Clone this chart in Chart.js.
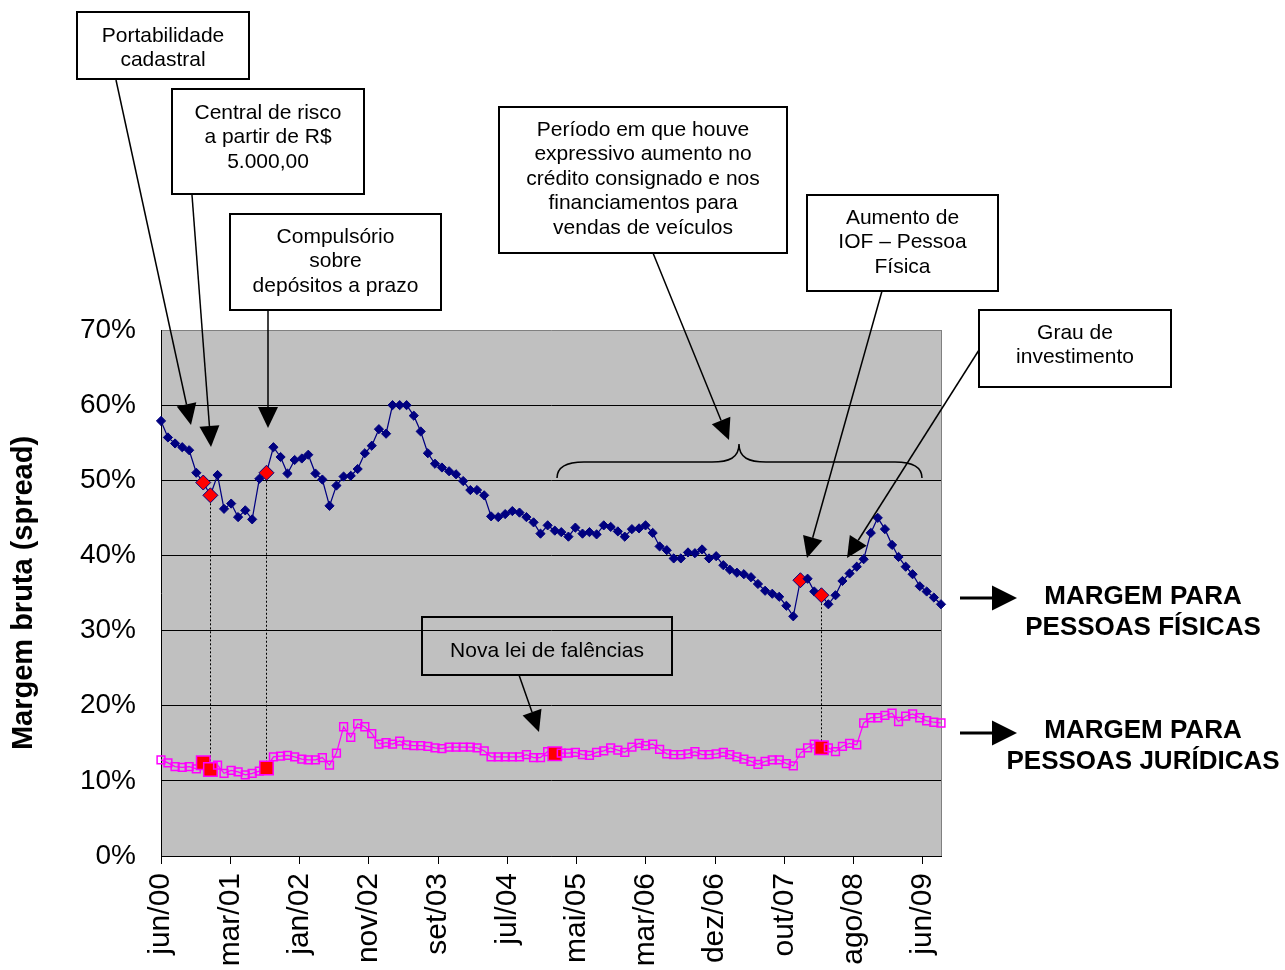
<!DOCTYPE html>
<html>
<head>
<meta charset="utf-8">
<script src="https://cdn.jsdelivr.net/npm/chart.js@4.4.1/dist/chart.umd.min.js"></script>
<style>
  html, body { margin: 0; padding: 0; background: #fff; }
  #wrap { width: 1285px; height: 970px; }
</style>
</head>
<body>
<div id="wrap"><canvas id="spreadChart" width="1285" height="970"></canvas></div>
<script>
// margem bruta (spread), mensal de jun/00 a set/09, em %
const pfSpread = [
  57.9, 55.7, 54.9, 54.4, 54.0, 51.0, 49.7, 48.0, 50.7, 46.2,
  46.9, 45.1, 46.0, 44.8, 50.2, 51.0, 54.4, 53.1, 50.9, 52.7,
  52.9, 53.4, 50.9, 50.1, 46.6, 49.3, 50.5, 50.6, 51.5, 53.6,
  54.6, 56.8, 56.2, 60.0, 60.0, 60.0, 58.6, 56.5, 53.6, 52.2,
  51.7, 51.2, 50.8, 49.9, 48.7, 48.7, 48.0, 45.2, 45.1, 45.5,
  45.9, 45.7, 45.1, 44.4, 42.9, 44.0, 43.3, 43.1, 42.5, 43.7,
  42.9, 43.1, 42.8, 44.0, 43.8, 43.2, 42.5, 43.5, 43.6, 44.0,
  43.0, 41.2, 40.7, 39.6, 39.6, 40.4, 40.3, 40.8, 39.6, 39.9,
  38.7, 38.1, 37.7, 37.5, 37.1, 36.2, 35.3, 34.9, 34.5, 33.3,
  31.9, 36.7, 36.9, 35.2, 34.7, 33.5, 34.7, 36.6, 37.6, 38.5,
  39.5, 43.0, 45.0, 43.5, 41.4, 39.8, 38.5, 37.5, 35.9, 35.2,
  34.4, 33.5
]
const pjSpread = [
  12.8, 12.4, 11.9, 11.8, 11.9, 11.6, 12.4, 11.5, 12.1, 11.0,
  11.4, 11.2, 10.8, 11.0, 11.3, 11.7, 13.2, 13.3, 13.4, 13.2,
  12.9, 12.8, 12.8, 13.1, 12.1, 13.7, 17.2, 15.8, 17.6, 17.2,
  16.3, 14.9, 15.1, 14.9, 15.3, 14.8, 14.7, 14.7, 14.6, 14.4,
  14.3, 14.5, 14.5, 14.5, 14.5, 14.4, 14.0, 13.2, 13.2, 13.2,
  13.2, 13.2, 13.5, 13.1, 13.1, 13.9, 13.6, 13.7, 13.7, 13.8,
  13.5, 13.4, 13.8, 14.0, 14.4, 14.1, 13.8, 14.5, 15.0, 14.7,
  14.9, 14.2, 13.6, 13.5, 13.5, 13.6, 13.9, 13.5, 13.5, 13.6,
  13.8, 13.5, 13.2, 12.9, 12.6, 12.2, 12.6, 12.8, 12.8, 12.3,
  12.0, 13.7, 14.4, 14.9, 14.4, 14.4, 13.9, 14.6, 15.0, 14.8,
  17.7, 18.4, 18.4, 18.7, 19.0, 17.9, 18.6, 18.9, 18.4, 18.0,
  17.8, 17.7
]
// pontos destacados em vermelho (índices dos meses)
const pfHighlight = [6, 7, 15, 91, 94]
const pjHighlight = [6, 7, 15, 56, 94]
const linkedPoints = [7, 15, 94]

// eixo de datas: um rótulo a cada 300 dias a partir de jun/00
const tickLabels = ['jun/00', 'mar/01', 'jan/02', 'nov/02', 'set/03', 'jul/04',
  'mai/05', 'mar/06', 'dez/06', 'out/07', 'ago/08', 'jun/09']
const tickStepDays = 300
const startMs = Date.UTC(2000, 5, 1)
const monthDays = pfSpread.map((_, i) => (Date.UTC(2000, 5 + i, 1) - startMs) / 864e5)

const FONT = 'Arial, "Liberation Sans", sans-serif'

const callouts = [
  { lines: ['Portabilidade', 'cadastral'], box: [77, 12, 172, 67], textY: 36, from: [116, 80], to: [191, 425] },
  { lines: ['Central de risco', 'a partir de R$', '5.000,00'], box: [172, 89, 192, 105], textY: 113, from: [192, 195], to: [211, 447] },
  { lines: ['Compulsório', 'sobre', 'depósitos a prazo'], box: [230, 214, 211, 96], textY: 237, from: [268, 310], to: [268, 428] },
  { lines: ['Período em que houve', 'expressivo aumento no', 'crédito consignado e nos', 'financiamentos para', 'vendas de veículos'],
    box: [499, 107, 288, 146], textY: 130, from: [653, 253], to: [729, 440] },
  { lines: ['Aumento de', 'IOF – Pessoa', 'Física'], box: [807, 195, 191, 96], textY: 218, from: [882, 291], to: [807, 558] },
  { lines: ['Grau de', 'investimento'], box: [979, 310, 192, 77], textY: 333, from: [979, 350], to: [847, 558] },
  { lines: ['Nova lei de falências'], box: [422, 617, 250, 58], textY: 651, from: [519, 675], to: [539, 732] }
]

const sideLabels = [
  { lines: ['MARGEM PARA', 'PESSOAS FÍSICAS'], y: 597, arrowY: 598 },
  { lines: ['MARGEM PARA', 'PESSOAS JURÍDICAS'], y: 731, arrowY: 733 }
]

const arrow = (ctx, x1, y1, x2, y2, len, half, width) => {
  const a = Math.atan2(y2 - y1, x2 - x1)
  const bx = x2 - Math.cos(a) * len
  const by = y2 - Math.sin(a) * len
  ctx.lineWidth = width
  ctx.beginPath()
  ctx.moveTo(x1, y1)
  ctx.lineTo(bx, by)
  ctx.stroke()
  ctx.beginPath()
  ctx.moveTo(x2, y2)
  ctx.lineTo(bx - Math.sin(a) * half, by + Math.cos(a) * half)
  ctx.lineTo(bx + Math.sin(a) * half, by - Math.cos(a) * half)
  ctx.closePath()
  ctx.fill()
}

const plotArea = {
  id: 'plotArea',
  beforeDraw (chart) {
    const { ctx, chartArea: a } = chart
    ctx.save()
    ctx.fillStyle = '#C0C0C0'
    ctx.fillRect(a.left, a.top, a.right - a.left, a.bottom - a.top)
    ctx.restore()
  },
  beforeDatasetsDraw (chart) {
    const { ctx, chartArea: a, scales: { x, y } } = chart
    ctx.save()
    ctx.strokeStyle = '#808080'
    ctx.lineWidth = 1
    ctx.beginPath()
    ctx.moveTo(a.right + 0.5, a.top)
    ctx.lineTo(a.right + 0.5, a.bottom)
    ctx.stroke()
    ctx.strokeStyle = '#000'
    ctx.setLineDash([2, 2])
    linkedPoints.forEach(i => {
      const px = Math.round(x.getPixelForValue(monthDays[i])) + 0.5
      ctx.beginPath()
      ctx.moveTo(px, y.getPixelForValue(pfSpread[i]))
      ctx.lineTo(px, y.getPixelForValue(pjSpread[i]))
      ctx.stroke()
    })
    ctx.restore()
  },
  afterDraw (chart) {
    const { ctx } = chart
    ctx.save()
    ctx.strokeStyle = '#000'
    ctx.fillStyle = '#000'
    ctx.textAlign = 'center'
    ctx.textBaseline = 'middle'
    ctx.font = '21px ' + FONT
    callouts.forEach(c => {
      const [bx, by, bw, bh] = c.box
      ctx.lineWidth = 2
      ctx.strokeRect(bx, by, bw, bh)
      c.lines.forEach((t, k) => ctx.fillText(t, bx + bw / 2, c.textY + k * 24.5))
      arrow(ctx, c.from[0], c.from[1], c.to[0], c.to[1], 21, 10, 1.5)
    })

    // chave sobre o período de expansão do crédito
    ctx.lineWidth = 1.5
    ctx.beginPath()
    ctx.moveTo(557, 478)
    ctx.bezierCurveTo(557, 467, 567, 462, 584, 462)
    ctx.lineTo(712, 462)
    ctx.bezierCurveTo(729, 462, 739, 458, 739, 444)
    ctx.bezierCurveTo(739, 458, 749, 462, 766, 462)
    ctx.lineTo(895, 462)
    ctx.bezierCurveTo(912, 462, 922, 467, 922, 478)
    ctx.stroke()

    ctx.font = 'bold 26px ' + FONT
    sideLabels.forEach(s => {
      s.lines.forEach((t, k) => ctx.fillText(t, 1143, s.y + k * 31))
      arrow(ctx, 960, s.arrowY, 1017, s.arrowY, 25, 12.5, 3)
    })
    ctx.restore()
  }
}

const ctx = document.getElementById('spreadChart').getContext('2d')
const chart = new Chart(ctx, {
  type: 'line',
  data: {
    datasets: [{
      label: 'Pessoas físicas',
      data: pfSpread.map((v, i) => ({ x: monthDays[i], y: v })),
      borderColor: '#000080',
      borderWidth: 1.25,
      pointStyle: 'rectRot',
      pointRadius: c => pfHighlight.includes(c.dataIndex) ? 7.5 : 4.6,
      pointBackgroundColor: c => pfHighlight.includes(c.dataIndex) ? '#FF0000' : '#000080',
      pointBorderColor: '#000080',
      pointBorderWidth: 1,
      clip: false
    }, {
      label: 'Pessoas jurídicas',
      data: pjSpread.map((v, i) => ({ x: monthDays[i], y: v })),
      borderColor: '#FF00FF',
      borderWidth: 1.25,
      pointStyle: 'rect',
      pointRadius: c => pjHighlight.includes(c.dataIndex) ? 9.5 : 5.5,
      pointBackgroundColor: c => pjHighlight.includes(c.dataIndex) ? '#FF0000' : 'rgba(0,0,0,0)',
      pointBorderColor: '#FF00FF',
      pointBorderWidth: 1.5,
      clip: false
    }]
  },
  options: {
    responsive: false,
    devicePixelRatio: 1,
    animation: false,
    events: [],
    layout: { padding: { top: 330, right: 344, left: 0, bottom: 0 } },
    plugins: { legend: { display: false }, tooltip: { enabled: false } },
    scales: {
      x: {
        type: 'linear',
        min: 0,
        max: monthDays[monthDays.length - 1],
        afterFit: s => { s.height = 114 },
        afterBuildTicks: s => { s.ticks = tickLabels.map((_, i) => ({ value: i * tickStepDays })) },
        border: { color: '#000', width: 1 },
        grid: { drawOnChartArea: false, color: '#000', tickLength: 8 },
        ticks: {
          autoSkip: false,
          minRotation: 90,
          maxRotation: 90,
          padding: 9,
          color: '#000',
          font: { size: 30, family: FONT },
          callback: (v, i) => tickLabels[i]
        }
      },
      y: {
        min: 0,
        max: 70,
        afterFit: s => { s.width = 161 },
        border: { color: '#000', width: 1 },
        grid: {
          drawTicks: false,
          color: c => c.tick.value === 70 ? '#808080' : '#000'
        },
        ticks: {
          stepSize: 10,
          padding: 25,
          color: '#000',
          font: { size: 28, family: FONT },
          callback: v => v + '%'
        },
        title: {
          display: true,
          text: 'Margem bruta (spread)',
          color: '#000',
          font: { size: 29, weight: 'bold', family: FONT },
          padding: { top: 7, bottom: 0 }
        }
      }
    }
  },
  plugins: [plotArea]
})
</script>
</body>
</html>
